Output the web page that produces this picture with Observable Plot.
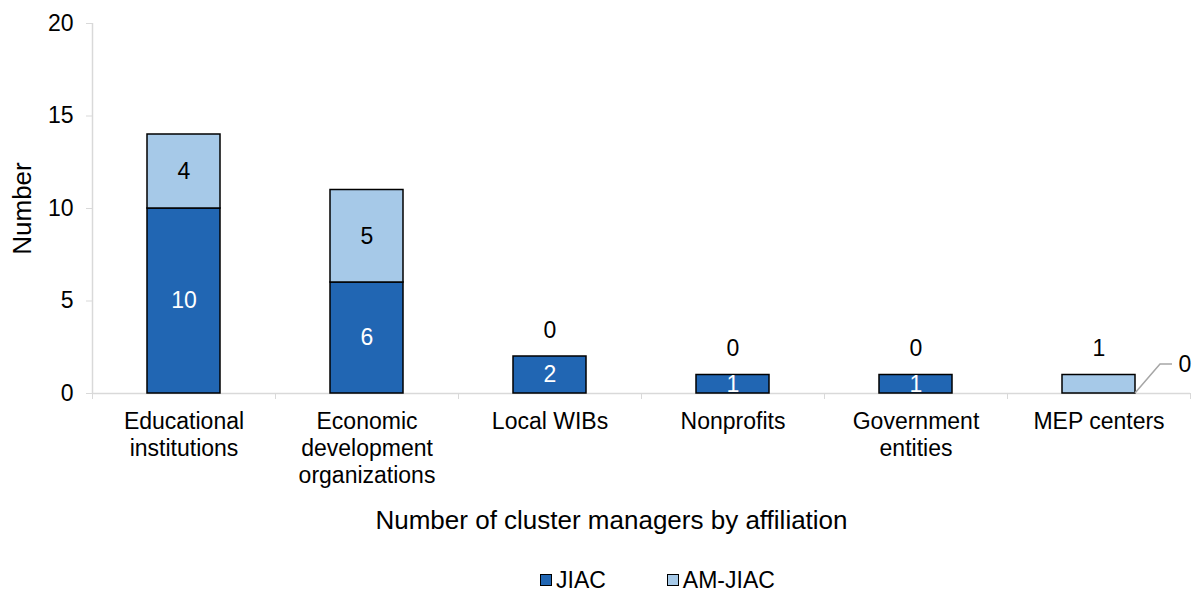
<!DOCTYPE html>
<html>
<head>
<meta charset="utf-8">
<script src="https://cdn.jsdelivr.net/npm/d3@7"></script>
<script src="https://cdn.jsdelivr.net/npm/@observablehq/plot@0.6"></script>
<style>
  html, body { margin: 0; padding: 0; background: #fff; }
  body { width: 1196px; height: 593px; overflow: hidden; font-family: "Liberation Sans", Arial, sans-serif; }
  #legend { display: flex; align-items: center; height: 46px; padding-left: 540px; font-size: 23px; color: #000; }
  .item { display: flex; align-items: center; margin-right: 61px; }
  .sw { width: 10px; height: 10px; border: 1.5px solid #000; margin-right: 4px; }
</style>
</head>
<body>
<div id="chart"></div>
<div id="legend"></div>
<script>
const categories = ["Educational institutions", "Economic development organizations", "Local WIBs", "Nonprofits", "Government entities", "MEP centers"];
const tickLabels = ["Educational\ninstitutions", "Economic\ndevelopment\norganizations", "Local WIBs", "Nonprofits", "Government\nentities", "MEP centers"];
const series = ["JIAC", "AM-JIAC"];
const jiac = [10, 6, 2, 1, 1, 0];
const amJiac = [4, 5, 0, 0, 0, 1];
const colors = ["#2166B3", "#A6C9E8"];
const yTicks = [0, 5, 10, 15, 20];

const W = 1196, H = 557, ML = 92, MR = 6, MT = 23, MB = 164;
const step = (W - ML - MR) / categories.length;
const gray = "#d9d9d9";
const font = "Liberation Sans, Arial, sans-serif";

const values = [jiac, amJiac];
const bars = [];
series.forEach((s, k) => categories.forEach((c, i) => {
  if (values[k][i] > 0) bars.push({cat: c, series: s, value: values[k][i]});
}));

// labels
const inner = [], outer = [], leader = [];
categories.forEach((c, i) => {
  const j = jiac[i], a = amJiac[i];
  if (j > 0) inner.push({cat: c, y: j / 2, text: String(j), fill: "white"});
  else leader.push({cat: c, y: 0, text: String(j)});
  if (a > 0 && j > 0) inner.push({cat: c, y: j + a / 2, text: String(a), fill: "black"});
  else outer.push({cat: c, y: j + a, text: String(a)});
});

const chart = Plot.plot({
  width: W, height: H,
  marginLeft: ML, marginRight: MR, marginTop: MT, marginBottom: MB,
  style: {fontFamily: font, fontSize: "23px", color: "black", background: "white"},
  x: {domain: categories, paddingInner: 0.6, paddingOuter: 0.3, axis: null},
  y: {domain: [0, 20], axis: null},
  color: {domain: series, range: colors},
  marks: [
    Plot.ruleY([0], {stroke: gray, strokeWidth: 1.5}),
    Plot.ruleX([categories[0]], {y1: 0, y2: 20, dx: -step / 2, stroke: gray, strokeWidth: 1.5}),
    Plot.axisY({ticks: yTicks, tickSize: 6, tickPadding: 13, stroke: gray, fill: "black", label: null, fontSize: 23}),
    Plot.axisX({ticks: categories, tickSize: 6, dx: -step / 2, stroke: gray, tickFormat: () => "", label: null}),
    Plot.axisX({ticks: [categories[categories.length - 1]], tickSize: 6, dx: step / 2, stroke: gray, tickFormat: () => "", label: null}),
    Plot.axisX({ticks: categories, tickSize: 0, tickPadding: 16, lineHeight: 1.18, fill: "black",
      tickFormat: (d) => tickLabels[categories.indexOf(d)], label: null, fontSize: 23}),
    Plot.barY(bars, {x: "cat", y: "value", fill: "series", stroke: "black", strokeWidth: 1.5}),
    Plot.text(inner, {x: "cat", y: "y", text: "text", fill: "fill", fontSize: 23}),
    Plot.text(outer, {x: "cat", y: "y", text: "text", fill: "black", dy: -26, fontSize: 23}),
    (index, scales) => {
      const g = d3.create("svg:g");
      leader.forEach(d => {
        const x0 = scales.x(d.cat) + scales.x.bandwidth();
        const y0 = scales.y(d.y);
        g.append("path")
          .attr("d", `M${x0},${y0}L${x0 + 25},${y0 - 29}L${x0 + 37},${y0 - 29}`)
          .attr("fill", "none").attr("stroke", "#a6a6a6").attr("stroke-width", 1.5);
        g.append("text")
          .attr("x", x0 + 50).attr("y", y0 - 29).attr("dy", "0.35em")
          .attr("text-anchor", "middle").attr("font-size", 23).attr("fill", "black")
          .text(d.text);
      });
      return g.node();
    },
    Plot.text(["Number"], {frameAnchor: "left", textAnchor: "middle", lineAnchor: "middle", dx: -70, rotate: -90, fontSize: 26, fill: "black"}),
    Plot.text(["Number of cluster managers by affiliation"], {frameAnchor: "bottom", lineAnchor: "middle", dy: 127, dx: -30, fontSize: 26, fill: "black"})
  ]
});
document.getElementById("chart").appendChild(chart);

const legend = d3.select("#legend");
series.forEach((s, k) => {
  const it = legend.append("div").attr("class", "item");
  it.append("div").attr("class", "sw").style("background", colors[k]);
  it.append("span").text(s);
});
</script>
</body>
</html>
